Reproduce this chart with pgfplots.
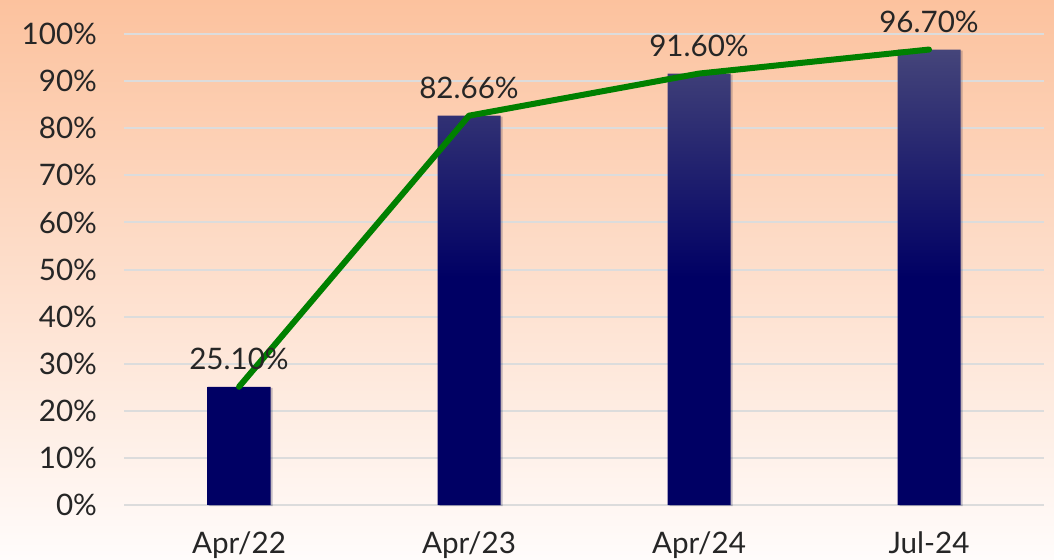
\documentclass[border=0pt]{standalone}
\usepackage{pgfplots}
\pgfplotsset{compat=1.18}
\usepackage{fontspec}
\setmainfont{Lato}
\definecolor{bgtop}{HTML}{FCC29E}
\definecolor{bgbot}{HTML}{FFFCFB}
\definecolor{bartop}{HTML}{45457A}
\definecolor{barbot}{HTML}{000064}
\definecolor{txt}{HTML}{262626}
\definecolor{linegreen}{HTML}{008000}
\definecolor{gridc}{HTML}{DCDCDC}
\pgfdeclareverticalshading{barshade}{100bp}{color(0bp)=(barbot); color(50bp)=(barbot); color(75bp)=(bartop); color(100bp)=(bartop)}
\begin{document}
\begin{tikzpicture}
\useasboundingbox (0,0) rectangle (527pt,279.5pt);
\shade[top color=bgtop, bottom color=bgbot] (0,0) rectangle (527pt,279.5pt);
\begin{axis}[
  at={(62pt,27pt)}, anchor=south west,
  scale only axis, width=460pt, height=235.5pt,
  xmin=-0.5, xmax=3.5, ymin=0, ymax=100,
  clip=false,
  axis line style={draw=none},
  major tick length=0pt,
  ymajorgrids, grid style={gridc, line width=1pt},
  ytick={0,10,...,100},
  yticklabel={\pgfmathprintnumber{\tick}\%},
  /pgf/number format/assume math mode=true,
  xtick={0,1,2,3},
  xticklabels={Apr/22,Apr/23,Apr/24,Jul-24},
  tick label style={font=\fontsize{14.8}{17}\selectfont, text=txt},
  yticklabel style={xshift=-10pt},
  xticklabel style={yshift=-10pt},
]
\addplot[ybar, bar width=31.5pt, draw=none, shading=barshade,
  preaction={fill=black, opacity=0.12, transform canvas={xshift=1pt, yshift=-0.5pt}},
  nodes near coords={\pgfmathprintnumber[fixed,fixed zerofill,precision=2]{\pgfplotspointmeta}\%},
  nodes near coords style={font=\fontsize{14.8}{17}\selectfont, text=txt, /pgf/number format/assume math mode=true, yshift=5pt}]
  coordinates {(0,25.10) (1,82.66) (2,91.60) (3,96.70)};
\addplot[linegreen, line width=3pt, line cap=round, line join=round, mark=none]
  coordinates {(0,25.10) (1,82.66) (2,91.60) (3,96.70)};
\end{axis}
\end{tikzpicture}
\end{document}
